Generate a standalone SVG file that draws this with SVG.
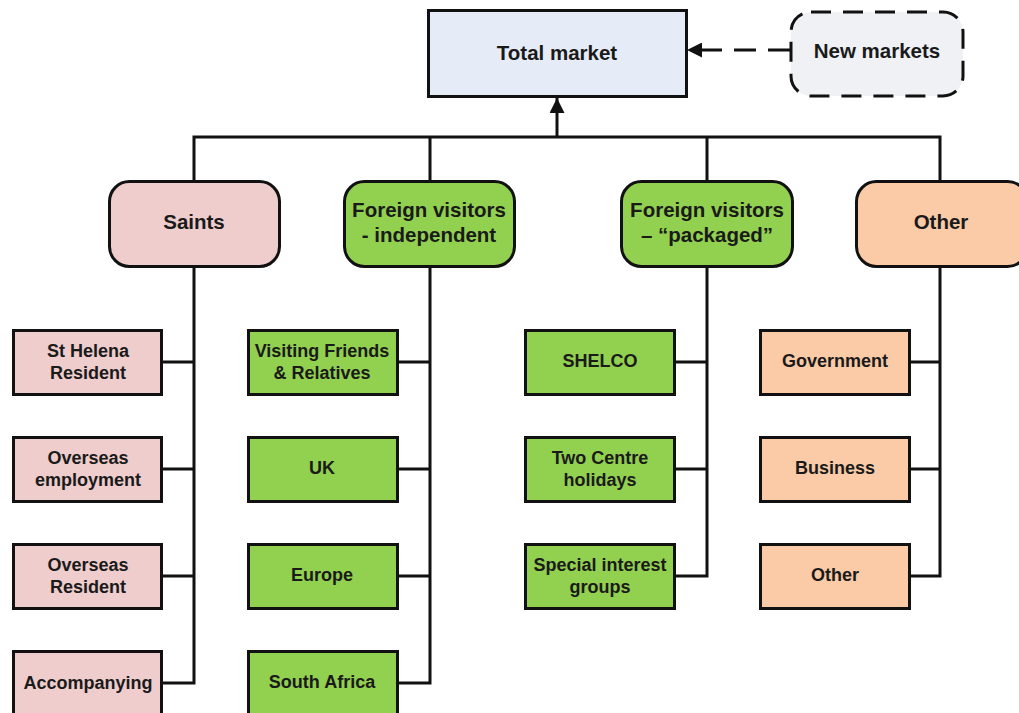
<svg xmlns="http://www.w3.org/2000/svg" width="1019" height="713" viewBox="0 0 1019 713">
<style>
text{font-family:"Liberation Sans",Arial,sans-serif;font-weight:bold;fill:#1a1a1a;text-anchor:middle;dominant-baseline:central}
.c{font-size:20.5px}
.s{font-size:18px}
.box{stroke:#111;stroke-width:3}
.pink{fill:#efcdcc}
.green{fill:#92d050}
.orange{fill:#facba6}
.ln{stroke:#111;stroke-width:3;fill:none}
</style>
<defs>
<marker id="ah" viewBox="0 0 10 10" refX="10" refY="5" markerWidth="6" markerHeight="5" orient="auto" markerUnits="strokeWidth">
<path d="M0,0 L10,5 L0,10 z" fill="#111"/>
</marker>
</defs>
<g id="connectors">
<path class="ln" d="M194,181 V137 H940 V181 M430,137 V181 M707,137 V181"/>
<path class="ln" d="M557,137 V98" marker-end="url(#ah)"/>
<path class="ln" d="M790,50 H687" stroke-dasharray="22,12" marker-end="url(#ah)"/>
<path class="ln" d="M194,267 V683 H162 M162,362 H194 M162,469 H194 M162,576 H194"/>
<path class="ln" d="M430,267 V683 H398 M398,362 H430 M398,469 H430 M398,576 H430"/>
<path class="ln" d="M707,267 V576 H675 M675,362 H707 M675,469 H707"/>
<path class="ln" d="M940,267 V576 H910 M910,362 H940 M910,469 H940"/>
</g>
<g id="total-market">
<rect class="box" x="428.5" y="10.5" width="258" height="86" fill="#e6ecf7"/>
<text class="c" x="557" y="52">Total market</text>
</g>
<g id="new-markets">
<rect x="791" y="12" width="172" height="84" rx="20" fill="#eff1f5" stroke="#111" stroke-width="3" stroke-dasharray="20,12"/>
<text class="c" x="877" y="50">New markets</text>
</g>
<g id="saints">
<rect class="box pink" x="109.5" y="181.5" width="170" height="85" rx="20"/>
<text class="c" x="194" y="221">Saints</text>
</g>
<g id="foreign-independent">
<rect class="box green" x="344.5" y="181.5" width="170" height="85" rx="20"/>
<text class="c" x="429" y="209">Foreign visitors</text>
<text class="c" x="429" y="234">- independent</text>
</g>
<g id="foreign-packaged">
<rect class="box green" x="621.5" y="181.5" width="171" height="85" rx="20"/>
<text class="c" x="707" y="209">Foreign visitors</text>
<text class="c" x="707" y="234">– “packaged”</text>
</g>
<g id="other-cat">
<rect class="box orange" x="856.5" y="181.5" width="171" height="85" rx="20"/>
<text class="c" x="941" y="221">Other</text>
</g>
<g id="st-helena">
<rect class="box pink" x="13.5" y="330.5" width="148" height="64"/>
<text class="s" x="88" y="351">St Helena</text>
<text class="s" x="88" y="373">Resident</text>
</g>
<g id="overseas-employment">
<rect class="box pink" x="13.5" y="437.5" width="148" height="64"/>
<text class="s" x="88" y="458">Overseas</text>
<text class="s" x="88" y="480">employment</text>
</g>
<g id="overseas-resident">
<rect class="box pink" x="13.5" y="544.5" width="148" height="64"/>
<text class="s" x="88" y="565">Overseas</text>
<text class="s" x="88" y="587">Resident</text>
</g>
<g id="accompanying">
<rect class="box pink" x="13.5" y="651.5" width="148" height="64"/>
<text class="s" x="88" y="683">Accompanying</text>
</g>
<g id="vfr">
<rect class="box green" x="248.5" y="330.5" width="149" height="64"/>
<text class="s" x="322" y="351">Visiting Friends</text>
<text class="s" x="322" y="373">&amp; Relatives</text>
</g>
<g id="uk">
<rect class="box green" x="248.5" y="437.5" width="149" height="64"/>
<text class="s" x="322" y="468">UK</text>
</g>
<g id="europe">
<rect class="box green" x="248.5" y="544.5" width="149" height="64"/>
<text class="s" x="322" y="575">Europe</text>
</g>
<g id="south-africa">
<rect class="box green" x="248.5" y="651.5" width="149" height="64"/>
<text class="s" x="322" y="682">South Africa</text>
</g>
<g id="shelco">
<rect class="box green" x="525.5" y="330.5" width="149" height="64"/>
<text class="s" x="600" y="361">SHELCO</text>
</g>
<g id="two-centre">
<rect class="box green" x="525.5" y="437.5" width="149" height="64"/>
<text class="s" x="600" y="458">Two Centre</text>
<text class="s" x="600" y="480">holidays</text>
</g>
<g id="special-interest">
<rect class="box green" x="525.5" y="544.5" width="149" height="64"/>
<text class="s" x="600" y="565">Special interest</text>
<text class="s" x="600" y="587">groups</text>
</g>
<g id="government">
<rect class="box orange" x="760.5" y="330.5" width="149" height="64"/>
<text class="s" x="835" y="361">Government</text>
</g>
<g id="business">
<rect class="box orange" x="760.5" y="437.5" width="149" height="64"/>
<text class="s" x="835" y="468">Business</text>
</g>
<g id="other">
<rect class="box orange" x="760.5" y="544.5" width="149" height="64"/>
<text class="s" x="835" y="575">Other</text>
</g>
</svg>
